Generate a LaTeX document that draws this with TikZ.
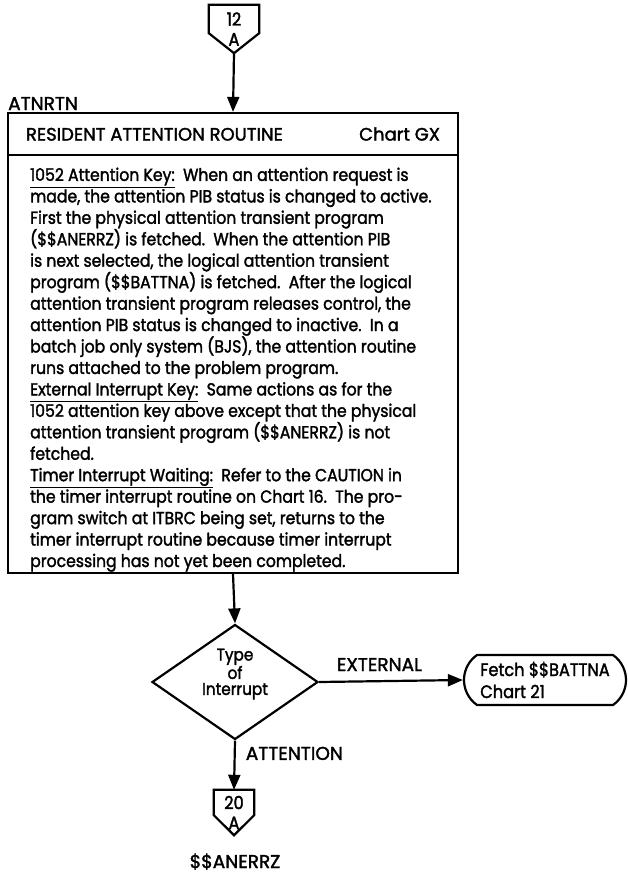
\documentclass[tikz,border=0pt]{standalone}
\usepackage{fontspec}
\setmainfont{Poppins}[FakeStretch=0.9, FakeBold=1.8]
\newfontfamily\capsfont{Poppins}[FakeStretch=1.0, FakeBold=1.8]
\usetikzlibrary{arrows.meta,shapes.geometric,shapes.misc}

\tikzset{
  flow/.style={line width=2.2pt, -{Triangle[length=15pt,width=12pt]}},
  outline/.style={draw, line width=2.2pt},
  pagecon/.style={inner sep=0pt, align=center, font=\fontsize{18}{21}\selectfont},
  bodytext/.style={font=\fontsize{17.4}{21.45}\selectfont},
  lbl/.style={font=\capsfont\fontsize{18.5}{20}\selectfont, inner sep=0pt},
}
\newcommand{\keyhead}[1]{\underline{#1}}

\begin{document}
\begin{tikzpicture}[x=1pt,y=-1pt]
\useasboundingbox (0,0) rectangle (628,875);

% off-page connector 12/A
\node[pagecon, minimum width=50pt, minimum height=48pt] (c12) at (234,29) {12\\[-1pt]A};
\draw[line width=2.2pt, line join=miter] (c12.north west) -- (c12.north east)
  -- ([yshift=20pt]c12.south east) -- (c12.south) -- ([yshift=20pt]c12.south west) -- cycle;

% routine label and box
\node[lbl, anchor=base west] (lab) at (8,110) {ATNRTN};
\node[outline, minimum width=450pt, minimum height=42pt, inner sep=0pt,
      font=\capsfont\fontsize{18}{21}\selectfont] (head) at (233,134)
  {\makebox[414pt]{RESIDENT ATTENTION ROUTINE\hfill Chart GX}};
\node[outline, minimum width=450pt, minimum height=418pt, inner sep=0pt] (body) at (233,364) {};
% the base anchor of a multi-line node sits on its last baseline
\node[bodytext, anchor=base west, align=left, inner sep=0pt] (bodytxt) at (30,567)
  {\keyhead{1052 Attention Key:}\ \ When an attention request is\\
   made, the attention PIB status is changed to active.\\
   First the physical attention transient program\\
   (\$\$ANERRZ) is fetched.\ \ When the attention PIB\\
   is next selected, the logical attention transient\\
   program (\$\$BATTNA) is fetched.\ \ After the logical\\
   attention transient program releases control, the\\
   attention PIB status is changed to inactive.\ \ In a\\
   batch job only system (BJS), the attention routine\\
   runs attached to the problem program.\\
   \keyhead{External Interrupt Key:}\ \ Same actions as for the\\
   1052 attention key above except that the physical\\
   attention transient program (\$\$ANERRZ) is not\\
   fetched.\\
   \keyhead{Timer Interrupt Waiting:}\ \ Refer to the CAUTION in\\
   the timer interrupt routine on Chart 16.\ \ The pro-\\
   gram switch at ITBRC being set, returns to the\\
   timer interrupt routine because timer interrupt\\
   processing has not yet been completed.};

% decision
\node[outline, diamond, minimum width=166pt, minimum height=115pt, inner sep=0pt] (dec) at (235,682) {};
\node[align=center, inner sep=0pt, font=\fontsize{17}{16}\selectfont] (dectxt) at (235,674)
  {Type\\of\\Interrupt};

% terminal
\node[outline, rounded rectangle, rounded rectangle arc length=110, minimum width=162pt,
      minimum height=50pt, inner sep=0pt, align=left, font=\fontsize{18}{22}\selectfont]
  (term) at (545,680) {Fetch \$\$BATTNA\\Chart 21};

% off-page connector 20/A
\node[pagecon, minimum width=40pt, minimum height=45pt] (c20) at (234,812.5) {20\\[-1pt]A};
\draw[line width=2.2pt, line join=miter] (c20.north west) -- (c20.north east)
  -- ([yshift=20pt]c20.south east) -- (c20.south) -- ([yshift=20pt]c20.south west) -- cycle;
\node[lbl, anchor=base] (ret) at (235,868) {\$\$ANERRZ};

% flow lines
\draw[flow] (c12.south) -- (head.north);
\draw[flow] (body.south) -- (dec.north);
\draw[flow] (dec.east) -- node[lbl, above=9pt, pos=0.42] {EXTERNAL} (term.west);
\draw[flow] (dec.south) -- node[lbl, right=10pt, pos=0.26] {ATTENTION} (c20.north);
\end{tikzpicture}
\end{document}
